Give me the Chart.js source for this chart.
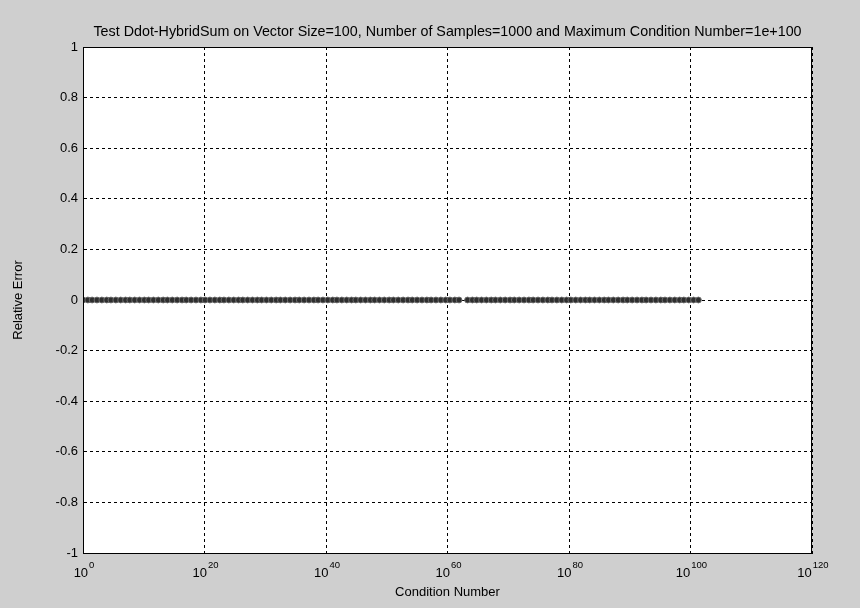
<!DOCTYPE html>
<html>
<head>
<meta charset="utf-8">
<script src="https://cdn.jsdelivr.net/npm/chart.js@4"></script>
<style>
  html, body { margin: 0; padding: 0; background: #cfcfcf; }
  #chart { display: block; }
</style>
</head>
<body>
<canvas id="chart" width="860" height="608"></canvas>
<script>
const conditionExponents = [
  0.0, 0.8, 1.5, 2.3, 3.1, 3.9, 4.6, 5.4, 6.2, 7.0, 7.7, 8.5, 9.3, 10.1, 10.8, 11.6,
  12.4, 13.2, 13.9, 14.7, 15.5, 16.3, 17.0, 17.8, 18.6, 19.4, 20.1, 20.9, 21.7, 22.5,
  23.2, 24.0, 24.8, 25.6, 26.3, 27.1, 27.9, 28.7, 29.4, 30.2, 31.0, 31.8, 32.5, 33.3,
  34.1, 34.9, 35.6, 36.4, 37.2, 38.0, 38.7, 39.5, 40.3, 41.1, 41.8, 42.6, 43.4, 44.2,
  44.9, 45.7, 46.5, 47.3, 48.0, 48.8, 49.6, 50.4, 51.1, 51.9, 52.7, 53.5, 54.2, 55.0,
  55.8, 56.6, 57.3, 58.1, 58.9, 59.7, 60.4, 61.2, 61.9,
  63.3, 64.1, 64.8, 65.6, 66.4, 67.2, 67.9, 68.7, 69.5, 70.3, 71.0, 71.8, 72.6, 73.4,
  74.1, 74.9, 75.7, 76.5, 77.2, 78.0, 78.8, 79.6, 80.3, 81.1, 81.9, 82.7, 83.4, 84.2,
  85.0, 85.8, 86.5, 87.3, 88.1, 88.9, 89.6, 90.4, 91.2, 92.0, 92.7, 93.5, 94.3, 95.1,
  95.8, 96.6, 97.4, 98.2, 98.9, 99.7, 100.5, 101.3
];
const relativeErrors = [
  0, 0, 0, 0, 0, 0, 0, 0, 0, 0, 0, 0, 0, 0, 0, 0,
  0, 0, 0, 0, 0, 0, 0, 0, 0, 0, 0, 0, 0, 0,
  0, 0, 0, 0, 0, 0, 0, 0, 0, 0, 0, 0, 0, 0,
  0, 0, 0, 0, 0, 0, 0, 0, 0, 0, 0, 0, 0, 0,
  0, 0, 0, 0, 0, 0, 0, 0, 0, 0, 0, 0, 0, 0,
  0, 0, 0, 0, 0, 0, 0, 0, 0,
  0, 0, 0, 0, 0, 0, 0, 0, 0, 0, 0, 0, 0, 0,
  0, 0, 0, 0, 0, 0, 0, 0, 0, 0, 0, 0, 0, 0,
  0, 0, 0, 0, 0, 0, 0, 0, 0, 0, 0, 0, 0, 0,
  0, 0, 0, 0, 0, 0, 0, 0
];
const xTickExponents = [0, 20, 40, 60, 80, 100, 120];
const yTickValues = [-1, -0.8, -0.6, -0.4, -0.2, 0, 0.2, 0.4, 0.6, 0.8, 1];
const yTickLabels = ["-1", "-0.8", "-0.6", "-0.4", "-0.2", "0", "0.2", "0.4", "0.6", "0.8", "1"];

const titleText = "Test Ddot-HybridSum on Vector Size=100, Number of Samples=1000 and Maximum Condition Number=1e+100";
const FONT = '"Liberation Sans", Arial, sans-serif';

Chart.defaults.font.family = FONT;
Chart.defaults.color = "#000";

const points = conditionExponents.map((e, i) => ({ x: Math.pow(10, e), y: relativeErrors[i] }));

// figure grey + white axes background
const backdrop = {
  id: "backdrop",
  beforeDraw(chart) {
    const { ctx, chartArea: a } = chart;
    ctx.save();
    ctx.fillStyle = "#cfcfcf";
    ctx.fillRect(0, 0, chart.width, chart.height);
    ctx.fillStyle = "#fff";
    ctx.fillRect(a.left, a.top, a.right - a.left, a.bottom - a.top);
    ctx.restore();
  }
};

// solid axes box, title over the axes, 10^n tick labels
const axesBox = {
  id: "axesBox",
  afterDraw(chart) {
    const { ctx, chartArea: a, scales } = chart;
    ctx.save();
    ctx.strokeStyle = "#000";
    ctx.lineWidth = 1;
    ctx.setLineDash([]);
    ctx.strokeRect(a.left + 0.5, a.top + 0.5, a.right - a.left - 1, a.bottom - a.top);

    ctx.fillStyle = "#000";
    ctx.textAlign = "center";
    ctx.textBaseline = "alphabetic";
    ctx.font = "14.3px " + FONT;
    ctx.fillText(titleText, (a.left + a.right) / 2, a.top - 11);

    ctx.textAlign = "left";
    xTickExponents.forEach((e) => {
      const px = scales.x.getPixelForValue(Math.pow(10, e));
      ctx.font = "13px " + FONT;
      const baseW = ctx.measureText("10").width;
      ctx.font = "9.5px " + FONT;
      const supW = ctx.measureText(String(e)).width;
      const left = px - (baseW + supW + 1) / 2 + 1;
      ctx.font = "13px " + FONT;
      ctx.fillText("10", left, a.bottom + 24);
      ctx.font = "9.5px " + FONT;
      ctx.fillText(String(e), left + baseW + 1, a.bottom + 15);
    });
    ctx.restore();
  }
};

new Chart(document.getElementById("chart"), {
  type: "scatter",
  data: {
    datasets: [{
      data: points,
      showLine: false,
      pointRadius: 2.9,
      pointBackgroundColor: "#2e2e2e",
      pointBorderColor: "#6a6a6a",
      pointBorderWidth: 1
    }]
  },
  options: {
    responsive: false,
    animation: false,
    layout: { padding: { left: 0, right: 48, top: 47, bottom: 0 } },
    plugins: {
      legend: { display: false },
      tooltip: { enabled: false },
      title: { display: false }
    },
    scales: {
      x: {
        type: "logarithmic",
        min: 1,
        max: 1e120,
        afterBuildTicks(scale) {
          scale.ticks = xTickExponents.map((e) => ({ value: Math.pow(10, e) }));
        },
        afterFit(scale) { scale.height = 55; },
        ticks: { display: false },
        grid: { color: "#000", lineWidth: 1, drawTicks: false },
        border: { display: true, color: "#000", dash: [3, 3] },
        title: {
          display: true,
          text: "Condition Number",
          color: "#000",
          font: { family: FONT, size: 13 },
          padding: { top: 8, bottom: 8 }
        }
      },
      y: {
        type: "linear",
        min: -1,
        max: 1,
        afterBuildTicks(scale) {
          scale.ticks = yTickValues.map((v) => ({ value: v }));
        },
        afterFit(scale) { scale.width = 83; },
        ticks: {
          padding: 5,
          font: { family: FONT, size: 13 },
          color: "#000",
          callback: (v, i) => yTickLabels[i]
        },
        grid: { color: "#000", lineWidth: 1, drawTicks: false },
        border: { display: true, color: "#000", dash: [3, 3] },
        title: {
          display: true,
          text: "Relative Error",
          color: "#000",
          font: { family: FONT, size: 13 },
          padding: { top: 11, bottom: 0 }
        }
      }
    }
  },
  plugins: [backdrop, axesBox]
});
</script>
</body>
</html>
